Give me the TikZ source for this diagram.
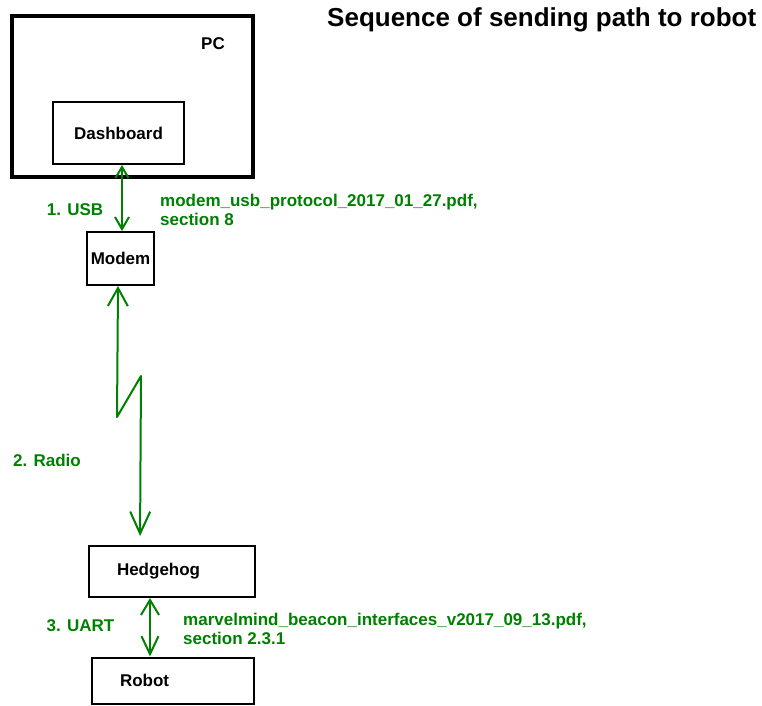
\documentclass[tikz,border=0pt]{standalone}
\usepackage{fontspec}
\setmainfont{Liberation Sans}
\usepackage{tikz}
\usetikzlibrary{arrows.meta,positioning}
\definecolor{linkgreen}{RGB}{0,128,0}

\begin{document}
\begin{tikzpicture}[
  x=1pt, y=-1pt,
  font=\fontsize{17}{19}\selectfont\bfseries,
  box/.style={draw, line width=2pt, inner sep=0pt, align=center},
  leftbox/.style={draw, line width=2pt, inner ysep=0pt, inner xsep=28pt, align=left},
  note/.style={text=linkgreen, inner sep=0pt, align=left},
  link/.style={draw=linkgreen, line width=2pt, line join=round,
    {Straight Barb[length=11pt,width=13pt]}-{Straight Barb[length=12pt,width=14pt]}},
  radio/.style={link, {Straight Barb[length=18pt,width=20pt]}-{Straight Barb[length=22pt,width=20pt]}},
  uart/.style={link, {Straight Barb[length=15pt,width=18pt]}-{Straight Barb[length=18pt,width=17pt]}}
]
\useasboundingbox (0,0) rectangle (762,705);

\node[draw, line width=4pt, minimum width=241pt, minimum height=161pt] (pc) at (132.5,96.5) {};
\node[inner sep=0pt] (pclabel) at (213,44) {PC};
\node[box, minimum width=131pt, minimum height=62pt] (dashboard) at (118.5,133) {Dashboard};
\node[box, minimum width=67pt, minimum height=53pt] (modem) at (120.5,258.5) {Modem};
\node[leftbox, text width=110pt, minimum height=51pt] (hedgehog) at (172,571.5) {Hedgehog};
\node[leftbox, text width=106pt, minimum height=46pt] (robot) at (173,680.5) {Robot};

\node[anchor=west, inner sep=0pt, font=\fontsize{26}{30}\selectfont\bfseries] (title) at (327,20) {Sequence of sending path to robot};

\node[note] (usb) at (75,210) {1. USB};
\node[note, anchor=west] (usbdoc) at (160,209.5) {modem\_usb\_protocol\_2017\_01\_27.pdf,\\section 8};
\node[note] (radiolabel) at (47,460) {2. Radio};
\node[note] (uartlabel) at (80.5,626) {3. UART};
\node[note, anchor=west] (uartdoc) at (183,629) {marvelmind\_beacon\_interfaces\_v2017\_09\_13.pdf,\\section 2.3.1};

\coordinate (zigA) at (117,417);
\coordinate (zigB) at (141,376);

\draw[link] ([xshift=3.5pt]dashboard.south) -- ([xshift=1.5pt]modem.north);
\draw[radio, shorten >=9pt] ([xshift=-2.5pt]modem.south) -- (zigA) -- (zigB) -- ([xshift=-32pt]hedgehog.north);
\draw[uart] ([xshift=-22pt]hedgehog.south) -- ([xshift=-23pt]robot.north);
\end{tikzpicture}
\end{document}
